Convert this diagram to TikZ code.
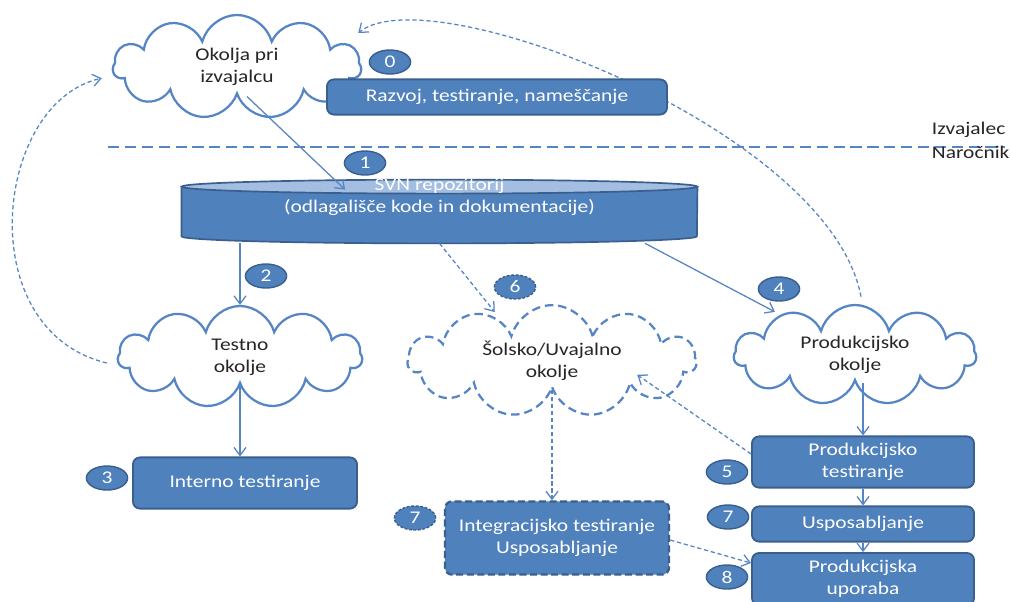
\documentclass[tikz,border=0pt]{standalone}
\usepackage{fontspec}
\setmainfont{Carlito}[FakeStretch=1.2]
\usetikzlibrary{arrows.meta,shapes.geometric,shapes.symbols}

\definecolor{boxblue}{HTML}{4F81BD}
\definecolor{boxline}{HTML}{3A5F8E}
\definecolor{linkblue}{HTML}{5585C5}
\definecolor{toplight}{HTML}{A3BEE0}
\definecolor{labelgray}{HTML}{262626}

\tikzset{
  env/.style={cloud, cloud puffs=11, cloud ignores aspect, draw=linkblue, line width=1.6pt, fill=white, align=center, text=labelgray},
  dashenv/.style={dash pattern=on 6pt off 3.5pt},
  stepbox/.style={rectangle, rounded corners=5pt, fill=boxblue, draw=boxline, line width=1.3pt, text=white, align=center},
  dashbox/.style={dash pattern=on 5pt off 2.5pt, line width=1.6pt},
  badge/.style={ellipse, fill=boxblue, draw=boxline, line width=1pt, text=white, minimum width=1.03cm, minimum height=0.6cm, inner sep=0pt},
  dbadge/.style={badge, dash pattern=on 2pt off 1.2pt},
  cylline/.style={draw=boxline, line width=1.2pt},
  link/.style={draw=linkblue, line width=0.9pt, -{Straight Barb[length=2mm,width=3mm]}},
  dlink/.style={link, dash pattern=on 3pt off 2pt},
  divider/.style={draw=linkblue, line width=2pt, dash pattern=on 8pt off 4pt}
}

\begin{document}
\begin{tikzpicture}[x=0.025cm, y=-0.025cm, font=\fontsize{12.7}{15.5}\selectfont]
    \useasboundingbox (0,0) rectangle (1011,601);
    \fill[white] (0,0) rectangle (1011,601);

    % nodes
    \node (izv) at (237,67) [env, minimum width=6.2cm, minimum height=2.6cm] {Okolja pri\\izvajalcu};
    \draw[divider] (108,147) -- (1005,147);
    \node (izvajalec) at (927,130) [anchor=west, text=labelgray] {Izvajalec};
    \node (narocnik) at (927,152) [anchor=west, text=labelgray] {Naročnik};

    \node (svn) at (439.5,211.5) [minimum width=12.88cm, minimum height=1.58cm, inner sep=0pt] {};
    \draw[cylline, fill=boxblue] ([yshift=-0.175cm]svn.north west) -- ([yshift=0.175cm]svn.south west)
        arc[start angle=180, end angle=360, x radius=6.44cm, y radius=0.175cm] -- ([yshift=-0.175cm]svn.north east) -- cycle;
    \draw[cylline, fill=toplight] ([yshift=-0.175cm]svn.north) ellipse [x radius=6.44cm, y radius=0.175cm];
    \node (svntext) at (439.5,197) [text=white, align=center] {SVN repozitorij\\(odlagališče kode in dokumentacije)};

    \node (testno) at (240,357) [env, minimum width=6.1cm, minimum height=2.55cm] {Testno\\okolje};
    \node (interno) at (245,483) [stepbox, minimum width=5.6cm, minimum height=1.28cm] {Interno testiranje};
    \node (solsko) at (552,361) [env, dashenv, minimum width=7.2cm, minimum height=2.65cm] {Šolsko/Uvajalno\\okolje};
    \node (prod) at (855,355) [env, minimum width=6.05cm, minimum height=2.5cm] {Produkcijsko\\okolje};
    \node (prodtest) at (863,462) [stepbox, minimum width=5.55cm, minimum height=1.28cm] {Produkcijsko\\testiranje};
    \node (uspos) at (863,524) [stepbox, minimum width=5.55cm, minimum height=0.88cm] {Usposabljanje};
    \node (produpo) at (863,579) [stepbox, minimum width=5.55cm, minimum height=1.3cm] {Produkcijska\\uporaba};
    \node (integ) at (557,538) [stepbox, dashbox, minimum width=5.6cm, minimum height=1.83cm] {Integracijsko testiranje\\Usposabljanje};

    % paths
    \draw[link] ([xshift=0.25cm]izv.south) -- ([xshift=-2.36cm,yshift=-0.25cm]svn.north);
    \draw[link] (testno.north |- svn.south) -- (testno.north);
    \draw[link] (testno.south) -- (testno.south |- interno.north);
    \draw[link] ([xshift=5.14cm]svn.south) -- ([xshift=-2cm,yshift=-0.2cm]prod.north);
    \draw[dlink] (svn.south) -- ([xshift=-1.43cm,yshift=-0.2cm]solsko.north);
    \draw[link] (prod.south -| prodtest.north) -- (prodtest.north);
    \draw[link] (prodtest.south) -- (uspos.north);
    \draw[link] (uspos.south) -- (produpo.north);
    \draw[dlink] ([yshift=0.2cm]prodtest.west) -- ([xshift=2.13cm,yshift=0.38cm]solsko.south);
    \draw[dlink] (solsko.south) -- (solsko.south |- integ.north);
    \draw[dlink] ([yshift=-0.05cm]integ.east) -- ([yshift=0.4cm]produpo.west);
    \draw[dlink] ([xshift=-0.25cm,yshift=-0.15cm]testno.west) .. controls (-30,330) and (-6,102) .. ([xshift=-0.25cm,yshift=-0.28cm]izv.west);
    \draw[dlink] ([xshift=0.15cm,yshift=0.18cm]prod.north) .. controls (830,130) and (430,-25) .. ([xshift=-0.1cm,yshift=0.85cm]izv.east);

    % boxes over the paths, numbers
    \node (razvoj) at (497,97) [stepbox, minimum width=8.5cm, minimum height=0.88cm] {Razvoj, testiranje, nameščanje};
    \node (b0) at (390,62) [badge] {0};
    \node (b1) at (365,163) [badge] {1};
    \node (b2) at (266,276) [badge] {2};
    \node (b3) at (107,478) [badge] {3};
    \node (b4) at (779,289) [badge] {4};
    \node (b5) at (727,472) [badge] {5};
    \node (b6) at (515,287) [dbadge] {6};
    \node (b7int) at (415,518) [dbadge] {7};
    \node (b7) at (728,517) [badge] {7};
    \node (b8) at (727,577) [badge] {8};
\end{tikzpicture}
\end{document}
